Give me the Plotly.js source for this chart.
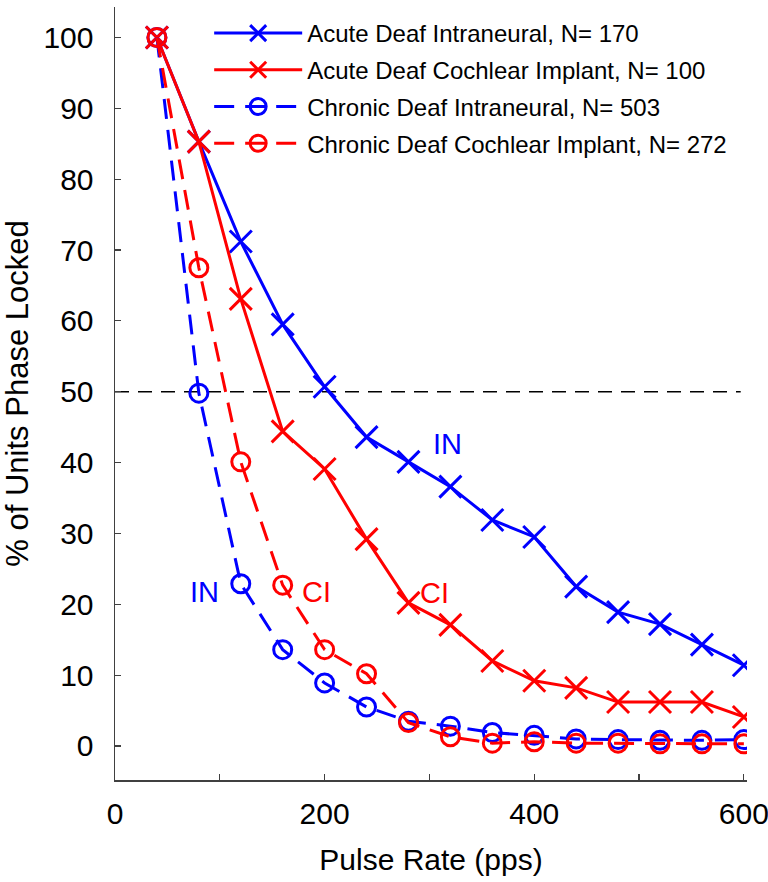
<!DOCTYPE html>
<html>
<head>
<meta charset="utf-8">
<script src="https://cdn.plot.ly/plotly-3.0.1.min.js"></script>
<style>html,body{margin:0;padding:0;background:#fff;}#chart{width:768px;height:882px;}</style>
</head>
<body>
<div id="chart"></div>
<script>
// Pulse rates (pps)
const pulseRate = [40, 80, 120, 160, 200, 240, 280, 320, 360, 400, 440, 480, 520, 560, 600];
// % of units phase locked
const acuteIN  = [100, 85.3, 71.2, 59.5, 50.7, 43.6, 40.1, 36.6, 31.9, 29.5, 22.5, 18.9, 17.2, 14.3, 11.4];
const acuteCI  = [100, 85.3, 63.1, 44.4, 39.1, 29.2, 20.2, 17.1, 12.0, 9.2, 8.2, 6.2, 6.2, 6.2, 4.1];
const chronicIN = [100, 49.8, 22.9, 13.6, 8.9, 5.5, 3.5, 2.8, 1.9, 1.5, 1.0, 0.9, 0.8, 0.8, 0.9];
const chronicCI = [100, 67.5, 40.1, 22.7, 13.6, 10.2, 3.3, 1.3, 0.4, 0.6, 0.4, 0.4, 0.3, 0.3, 0.3];

const seriesNames = [
  'Acute Deaf Intraneural, N= 170',
  'Acute Deaf Cochlear Implant, N= 100',
  'Chronic Deaf Intraneural, N= 503',
  'Chronic Deaf Cochlear Implant, N= 272'
];

const xTickVals = [0, 100, 200, 300, 400, 500, 600];
const xTickText = ['0', '', '200', '', '400', '', '600'];
const yTickVals = [0, 10, 20, 30, 40, 50, 60, 70, 80, 90, 100];
const yTickText = ['0', '10', '20', '30', '40', '50', '60', '70', '80', '90', '100'];

const refLevel = 50;
const refXStart = 0, refXEnd = 597;

// in-plot labels
const labelText  = ['IN', 'CI', 'IN', 'CI'];
const labelX     = [317, 305, 85, 192];
const labelY     = [42.6, 21.6, 21.7, 21.7];
const labelColor = ['#0000ff', '#ff0000', '#0000ff', '#ff0000'];

const BLUE = '#0000ff', RED = '#ff0000';
const FONT = 'Liberation Sans, Arial, sans-serif';

function makeTrace(y, name, color, chronic, grp) {
  return {
    x: pulseRate, y: y, name: name, type: 'scatter', mode: 'lines+markers',
    legendgroup: grp,
    line: {color: color, width: 3, dash: chronic ? '20px,11px' : 'solid'},
    marker: chronic
      ? {symbol: 'circle-open', size: 18, color: color, line: {width: 3, color: color}}
      : {symbol: 'x-thin-open', size: 22, color: color, line: {width: 3, color: color}}
  };
}

const data = [
  makeTrace(acuteIN, seriesNames[0], BLUE, false, 'g1'),
  makeTrace(acuteCI, seriesNames[1], RED, false, 'g2'),
  makeTrace(chronicIN, seriesNames[2], BLUE, true, 'g3'),
  makeTrace(chronicCI, seriesNames[3], RED, true, 'g4')
];

const layout = {
  width: 768, height: 882,
  margin: {l: 115, r: 21, t: 7, b: 102},
  paper_bgcolor: '#fff', plot_bgcolor: '#fff',
  font: {family: FONT, color: '#000'},
  showlegend: true,
  legend: {
    x: 0.149, y: 1 - 4/773, xanchor: 'left', yanchor: 'top',
    bgcolor: 'rgba(0,0,0,0)', borderwidth: 0,
    font: {family: FONT, size: 24, color: '#000'},
    itemwidth: 88, tracegroupgap: 2.5
  },
  xaxis: {
    range: [0, 603], showgrid: false, zeroline: false,
    showline: true, linecolor: '#404040', linewidth: 1.5, mirror: false,
    ticks: 'inside', ticklen: 6, tickwidth: 1.2, tickcolor: '#404040',
    tickmode: 'array', tickvals: xTickVals, ticktext: xTickText,
    tickfont: {family: FONT, size: 30, color: '#000'},
    ticklabelstandoff: 6, ticklabeloverflow: 'allow',
    title: {text: 'Pulse Rate (pps)', font: {family: FONT, size: 30, color: '#000'}, standoff: 20}
  },
  yaxis: {
    range: [-4.8, 104.3], showgrid: false, zeroline: false,
    showline: true, linecolor: '#404040', linewidth: 1.5, mirror: false,
    ticks: 'inside', ticklen: 6, tickwidth: 1.2, tickcolor: '#404040',
    tickmode: 'array', tickvals: yTickVals, ticktext: yTickText,
    tickfont: {family: FONT, size: 30, color: '#000'},
    ticklabelstandoff: 14,
    title: {text: '% of Units Phase Locked', font: {family: FONT, size: 31, color: '#000'}, standoff: 22}
  },
  shapes: [{
    type: 'line', xref: 'x', yref: 'y',
    x0: refXStart, x1: refXEnd, y0: refLevel, y1: refLevel,
    line: {color: '#000', width: 1.3, dash: '14px,9px'}, layer: 'below'
  }],
  annotations: labelText.map((t, i) => ({
    x: labelX[i], y: labelY[i], xref: 'x', yref: 'y', text: t, showarrow: false,
    font: {family: FONT, size: 29, color: labelColor[i]}
  }))
};

Plotly.newPlot('chart', data, layout, {displayModeBar: false, staticPlot: true});
</script>
</body>
</html>
